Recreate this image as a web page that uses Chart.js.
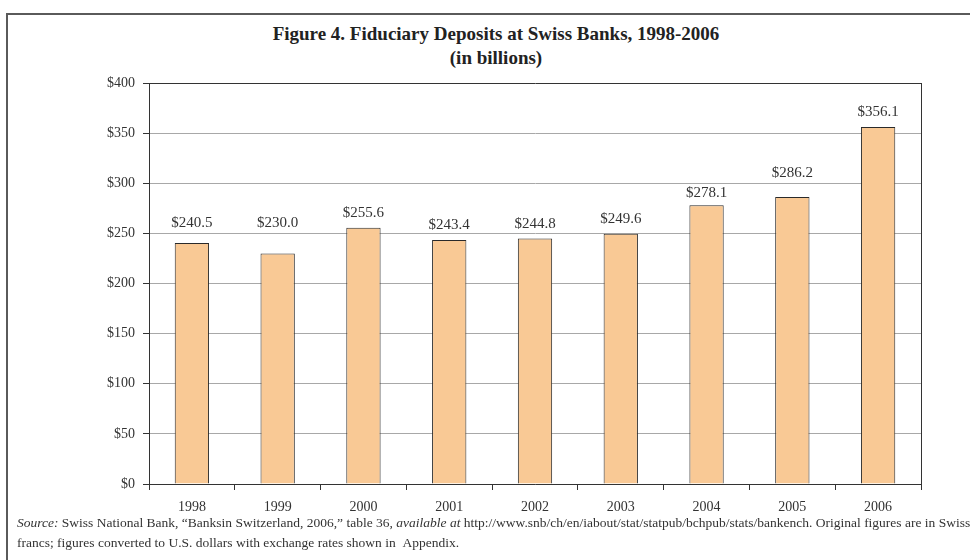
<!DOCTYPE html>
<html>
<head>
<meta charset="utf-8">
<script src="https://cdn.jsdelivr.net/npm/chart.js@4/dist/chart.umd.min.js"></script>
<style>
  html, body { margin: 0; padding: 0; background: #fff; overflow: hidden; }
  #wrap { position: relative; width: 970px; height: 560px; overflow: hidden; }
  #frame { position: absolute; left: 6px; top: 13px; width: 990px; height: 600px;
           border-left: 2px solid #5a5a5a; border-top: 2px solid #5a5a5a; }
  #title { position: absolute; left: 7px; width: 978px; top: 22px; text-align: center;
           font-family: "Liberation Serif", "DejaVu Serif", serif; font-weight: bold;
           font-size: 19px; line-height: 24px; color: #222; }
  #note { position: absolute; left: 17px; top: 513px; white-space: nowrap;
          font-family: "Liberation Serif", "DejaVu Serif", serif; font-size: 13.5px;
          line-height: 20px; color: #333; }
  canvas { position: absolute; left: 0; top: 0; }
</style>
</head>
<body>
<div id="wrap">
  <div id="frame"></div>
  <div id="title">Figure 4. Fiduciary Deposits at Swiss Banks, 1998-2006<br>(in billions)</div>
  <canvas id="chart" width="970" height="560"></canvas>
  <div id="note"><i>Source:</i> Swiss National Bank, “Banksin Switzerland, 2006,” table 36, <i>available at</i> http://www.snb/ch/en/iabout/stat/statpub/bchpub/stats/bankench. Original figures are in Swiss<br>francs; figures converted to U.S. dollars with exchange rates shown in &nbsp;Appendix.</div>
</div>
<script>
const years = ['1998', '1999', '2000', '2001', '2002', '2003', '2004', '2005', '2006'];
const deposits = [240.5, 230.0, 255.6, 243.4, 244.8, 249.6, 278.1, 286.2, 356.1];
const yTicks = [0, 50, 100, 150, 200, 250, 300, 350, 400];

const serif = '"Liberation Serif", "DejaVu Serif", serif';

// value labels over the bars (moved off gridlines) + right edge of the plot box
const barLabels = {
    id: 'barLabels',
    afterDatasetsDraw(chart) {
        const ctx = chart.ctx;
        const area = chart.chartArea;
        const yScale = chart.scales.y;
        const lines = yTicks.map(v => yScale.getPixelForValue(v));
        ctx.save();
        ctx.strokeStyle = '#333';
        ctx.lineWidth = 1;
        ctx.beginPath();
        ctx.moveTo(Math.round(area.right) + 0.5, area.top);
        ctx.lineTo(Math.round(area.right) + 0.5, area.bottom);
        ctx.stroke();

        ctx.font = '15px ' + serif;
        ctx.fillStyle = '#333';
        ctx.textAlign = 'center';
        ctx.textBaseline = 'alphabetic';
        chart.getDatasetMeta(0).data.forEach(function(bar, i) {
            let bottom = bar.y - 10;
            lines.forEach(function(ly) {
                if (ly >= bottom - 14 && ly <= bottom + 2) {
                    const above = ly - 5;
                    const below = ly + 15;
                    if (below <= bar.y - 6 && (below - bottom) < (bottom - above)) bottom = below;
                    else bottom = above;
                }
            });
            ctx.fillText('$' + deposits[i].toFixed(1), bar.x, bottom - 1);
        });
        ctx.restore();
    }
};

new Chart(document.getElementById('chart'), {
    type: 'bar',
    data: {
        labels: years,
        datasets: [{
            data: deposits,
            backgroundColor: '#f9c995',
            borderColor: '#2a2a2a',
            borderWidth: 1,
            categoryPercentage: 0.8,
            barPercentage: 0.5
        }]
    },
    options: {
        responsive: false,
        animation: false,
        layout: { padding: { top: 83, right: 49, left: 0, bottom: 0 } },
        plugins: {
            legend: { display: false },
            tooltip: { enabled: false },
            title: { display: false }
        },
        scales: {
            x: {
                offset: true,
                grid: { offset: true, drawOnChartArea: false, drawTicks: true, tickLength: 6, tickColor: '#333' },
                border: { color: '#333', width: 1 },
                ticks: { color: '#333', padding: 9, font: { family: serif, size: 14 } },
                afterFit: function(scale) { scale.height = 76; }
            },
            y: {
                min: 0,
                max: 400,
                afterBuildTicks: function(scale) { scale.ticks = yTicks.map(v => ({ value: v })); },
                grid: {
                    color: function(c) { return c.tick && c.tick.value === 400 ? '#333' : '#a8a8a8'; },
                    tickColor: '#333',
                    tickLength: 6,
                    lineWidth: 1
                },
                border: { color: '#333', width: 1 },
                ticks: {
                    color: '#333',
                    padding: 8,
                    font: { family: serif, size: 14 },
                    callback: function(v) { return '$' + v; }
                },
                afterFit: function(scale) { scale.width = 149; }
            }
        }
    },
    plugins: [barLabels]
});
</script>
</body>
</html>
